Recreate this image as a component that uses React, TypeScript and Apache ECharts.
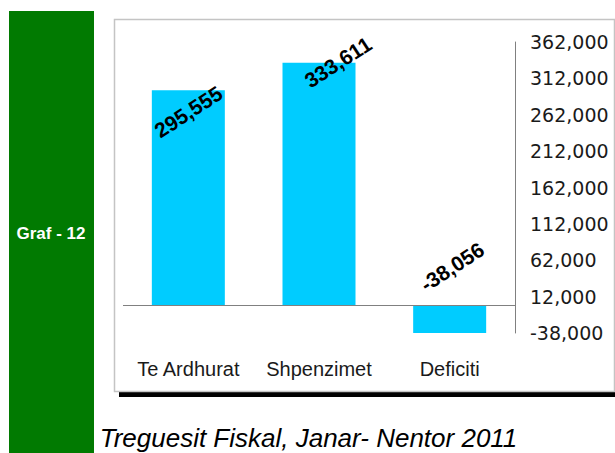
import React, { useEffect, useRef } from "react";
import * as echarts from "echarts";

const categories = ["Te Ardhurat", "Shpenzimet", "Deficiti"];
const values = [295555, 333611, -38056];
const yMin = -38000;
const yMax = 362000;
const yStep = 50000;
const sideLabel = "Graf - 12";
const titleText = "Treguesit Fiskal, Janar- Nentor 2011";

const fmt = (v: number) => v.toLocaleString("en-US");

const LABEL_ROTATE = 33;
// screen-space offsets of the rotated value labels from the bar's top-centre
const labelScreenOffsets = [
  [0, 21.5],
  [19, -0.5],
  [2.5, -38.5],
];
const toLocal = ([dx, dy]: number[]) => {
  const t = (LABEL_ROTATE * Math.PI) / 180;
  return [dx * Math.cos(t) - dy * Math.sin(t), dx * Math.sin(t) + dy * Math.cos(t)];
};

export default function App() {
  const ref = useRef<HTMLDivElement>(null);
  useEffect(() => {
    document.body.style.margin = "0";
    if (!ref.current) return;
    const chart = echarts.init(ref.current, null, { renderer: "svg" });
    chart.setOption({
      animation: false,
      backgroundColor: "#ffffff",
      grid: { left: 123, right: 100, top: 42, bottom: 120, containLabel: false },
      graphic: [
        { type: "rect", z: -20, shape: { x: 9, y: 11, width: 85, height: 442 }, style: { fill: "#017a01" } },
        {
          type: "text", z: -19, x: 51, y: 233,
          style: { text: sideLabel, fill: "#ffffff", font: "bold 17px 'Liberation Sans', Arial, sans-serif", align: "center", verticalAlign: "middle" },
        },
        { type: "rect", z: -20, shape: { x: 119, y: 392, width: 496, height: 5 }, style: { fill: "#000000" } },
        { type: "rect", z: -19, shape: { x: 114.5, y: 19.5, width: 500, height: 372 }, style: { fill: "#ffffff", stroke: "#c4c4c4", lineWidth: 1.5 } },
        {
          type: "text", z: -18, x: 308.5, y: 438,
          style: { text: titleText, fill: "#000000", font: "italic 26px 'Liberation Sans', Arial, sans-serif", align: "center", verticalAlign: "middle" },
        },
      ],
      xAxis: {
        type: "category",
        data: categories,
        axisLine: { show: false, onZero: false },
        axisTick: { show: false },
        axisLabel: { interval: 0, margin: 26, color: "#1a1a1a", fontSize: 20, fontFamily: "'Liberation Sans', Arial, sans-serif" },
        splitLine: { show: false },
      },
      yAxis: {
        type: "value",
        position: "right",
        min: yMin,
        max: yMax,
        interval: yStep,
        axisLine: { show: true, lineStyle: { color: "#808080", width: 1 } },
        axisTick: { show: false },
        splitLine: { show: false },
        axisLabel: { margin: 15, color: "#1a1a1a", fontSize: 19, fontFamily: "'DejaVu Sans', sans-serif", formatter: (v: number) => fmt(v) },
      },
      series: [
        {
          type: "bar",
          barWidth: 73,
          itemStyle: { color: "#00ccff" },
          data: values.map((v, i) => ({
            value: v,
            label: { offset: toLocal(labelScreenOffsets[i]) },
          })),
          label: {
            show: true,
            position: ["50%", 0],
            align: "center",
            verticalAlign: "middle",
            rotate: LABEL_ROTATE,
            color: "#000000",
            fontWeight: "bold",
            fontSize: 21,
            fontFamily: "'Liberation Sans', Arial, sans-serif",
            formatter: (p: any) => fmt(p.value),
          },
          markLine: {
            silent: true,
            symbol: "none",
            label: { show: false },
            lineStyle: { color: "#808080", type: "solid", width: 1 },
            data: [{ yAxis: 0 }],
          },
        },
      ],
    });
    return () => chart.dispose();
  }, []);
  return <div ref={ref} style={{ width: 615, height: 453 }} />;
}
